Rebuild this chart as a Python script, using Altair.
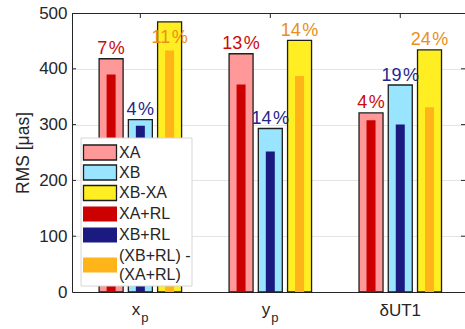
import altair as alt
import pandas as pd

# Earth orientation parameters and the two solution families
components = ["x", "y", "δUT1"]
subscripts = ["p", "p", ""]

# RMS [µas] of the plain solutions (wide bars)
rms_xa = [418, 427, 321]
rms_xb = [309, 293, 371]
rms_xbxa = [484, 451, 434]

# RMS [µas] after adding the RL data (narrow bars)
rms_xa_rl = [390, 372, 308]
rms_xb_rl = [298, 252, 300]
rms_diff_rl = [433, 387, 331]

# relative improvement printed over each wide bar [%]
pct_xa = [7, 13, 4]
pct_xb = [4, 14, 19]
pct_xbxa = [11, 14, 24]

series_wide = ["XA", "XB", "XB-XA"]
series_narrow = ["XA+RL", "XB+RL", "(XB+RL) -\n(XA+RL)"]
wide_colors = ["#ff9999", "#99e5ff", "#ffee22"]
narrow_colors = ["#cc0000", "#1a1a80", "#ffb41a"]
label_colors = ["#cc0a0a", "#26268a", "#e8901a"]

FONT = "Liberation Sans"
INK = "#262626"
W, H = 393, 279
GROUP_OFFSET = 0.225  # spacing of the three bars inside a group, in category units

wide_vals = [rms_xa, rms_xb, rms_xbxa]
narrow_vals = [rms_xa_rl, rms_xb_rl, rms_diff_rl]
pct_vals = [pct_xa, pct_xb, pct_xbxa]

rows = []
for i, comp in enumerate(components):
    for j in range(3):
        rows.append({
            "component": comp,
            "pos": (i + 1) + (j - 1) * GROUP_OFFSET,
            "wide": wide_vals[j][i],
            "narrow": narrow_vals[j][i],
            "pct": f"{pct_vals[j][i]}\u200a%",
            "wide_color": wide_colors[j],
            "narrow_color": narrow_colors[j],
            "label_color": label_colors[j],
        })
df = pd.DataFrame(rows)

cat_df = pd.DataFrame({
    "idx": [1, 2, 3],
    "main": components,
    "sub": subscripts,
})

x_scale = alt.Scale(domain=[0.5125, 3.4596], nice=False, zero=False)
y_scale = alt.Scale(domain=[0, 500], nice=False)

y_axis = alt.Axis(
    values=[0, 100, 200, 300, 400, 500],
    grid=True, gridColor="#e4e4e4", gridWidth=1,
    ticks=False, labelFont=FONT, labelFontSize=17, labelColor=INK,
    labelPadding=5, domainColor=INK, domainWidth=1,
    title="RMS [μas]", titleFont=FONT, titleFontSize=17.5,
    titleFontWeight="normal", titleColor=INK, titlePadding=6,
)
x_axis = alt.Axis(labels=False, ticks=False, grid=False, title=None,
                  domainColor=INK, domainWidth=1)


def xq(field):
    return alt.X(field, scale=x_scale, axis=x_axis)


def yq(field):
    return alt.Y(field, scale=y_scale, axis=y_axis)


base = alt.Chart(df)

wide_bars = base.mark_bar(width=24, stroke="#1e1e1e", strokeWidth=1.3).encode(
    x=xq("pos:Q"), y=yq("wide:Q"),
    fill=alt.Fill("wide_color:N", scale=None),
)

narrow_bars = base.mark_bar(width=9).encode(
    x=xq("pos:Q"), y=yq("narrow:Q"),
    fill=alt.Fill("narrow_color:N", scale=None),
)

# labels sit just above the bar; one that would touch the frame is tucked inside
pct_labels = base.transform_calculate(
    label_y="datum.wide > 470 ? datum.wide - 38 : datum.wide + 8"
).mark_text(font=FONT, fontSize=18, baseline="alphabetic").encode(
    x=xq("pos:Q"), y=yq("label_y:Q"),
    text="pct:N",
    color=alt.Color("label_color:N", scale=None),
)

one = alt.Chart(pd.DataFrame({"k": [0]}))
frame_top = one.mark_rule(color=INK, strokeWidth=1).encode(
    x=alt.value(0), x2=alt.value(W), y=alt.value(0.5)
)

tick_df = pd.DataFrame({"v": [100, 200, 300, 400]})
left_ticks = alt.Chart(tick_df).mark_rule(color=INK, strokeWidth=1).encode(
    y=yq("v:Q"), x=alt.value(0), x2=alt.value(4)
)
right_ticks = alt.Chart(tick_df).mark_rule(color=INK, strokeWidth=1).encode(
    y=yq("v:Q"), x=alt.value(W - 4), x2=alt.value(W)
)
top_ticks = alt.Chart(cat_df).mark_rule(color=INK, strokeWidth=1).encode(
    x=xq("idx:Q"), y=alt.value(0), y2=alt.value(5)
)

cat_main_sub = alt.Chart(cat_df).transform_filter("datum.sub != ''").mark_text(
    font=FONT, fontSize=17, align="right", baseline="alphabetic", color=INK
).encode(x=xq("idx:Q"), y=alt.value(302), text="main:N")
cat_sub = alt.Chart(cat_df).transform_filter("datum.sub != ''").mark_text(
    font=FONT, fontSize=13, align="left", baseline="alphabetic", dx=1, color=INK
).encode(x=xq("idx:Q"), y=alt.value(309), text="sub:N")
cat_plain = alt.Chart(cat_df).transform_filter("datum.sub == ''").mark_text(
    font=FONT, fontSize=17, align="center", baseline="alphabetic", color=INK
).encode(x=xq("idx:Q"), y=alt.value(303), text="main:N")

# legend box drawn in pixel space inside the plot area
legend_layers = [
    one.mark_rect(fill="white", stroke="#d6d6d6", strokeWidth=1).encode(
        x=alt.value(9), x2=alt.value(120), y=alt.value(125), y2=alt.value(273)
    )
]
legend_rows = [139.5, 159.5, 180, 201, 222, 252]
entries = [(series_wide[k], wide_colors[k], True) for k in range(3)] + \
          [(series_narrow[k], narrow_colors[k], False) for k in range(3)]
LINE_H = 19
for (label, color, outlined), cy in zip(entries, legend_rows):
    if outlined:
        sw = one.mark_rect(fill=color, stroke="#1e1e1e", strokeWidth=1.3).encode(
            x=alt.value(11.5), x2=alt.value(44.5), y=alt.value(cy - 7.5), y2=alt.value(cy + 7.5)
        )
    else:
        sw = one.mark_rect(fill=color).encode(
            x=alt.value(11), x2=alt.value(45), y=alt.value(cy - 7.5), y2=alt.value(cy + 7.5)
        )
    n_lines = label.count("\n") + 1
    txt = one.mark_text(
        font=FONT, fontSize=16, align="left", baseline="middle", color=INK,
        lineBreak="\n", lineHeight=LINE_H, text=label,
    ).encode(x=alt.value(47), y=alt.value(cy - (n_lines - 1) * LINE_H / 2))
    legend_layers += [sw, txt]

chart = alt.layer(
    wide_bars, narrow_bars, pct_labels, frame_top,
    left_ticks, right_ticks, top_ticks,
    cat_main_sub, cat_sub, cat_plain,
    *legend_layers,
).properties(
    width=W, height=H,
    padding={"left": 72, "top": 13, "right": 0, "bottom": 37},
    autosize=alt.AutoSizeParams(type="none"),
).configure_view(stroke=None).configure(background="white")

chart.save("out.html", embed_options={"renderer": "svg", "actions": False})
